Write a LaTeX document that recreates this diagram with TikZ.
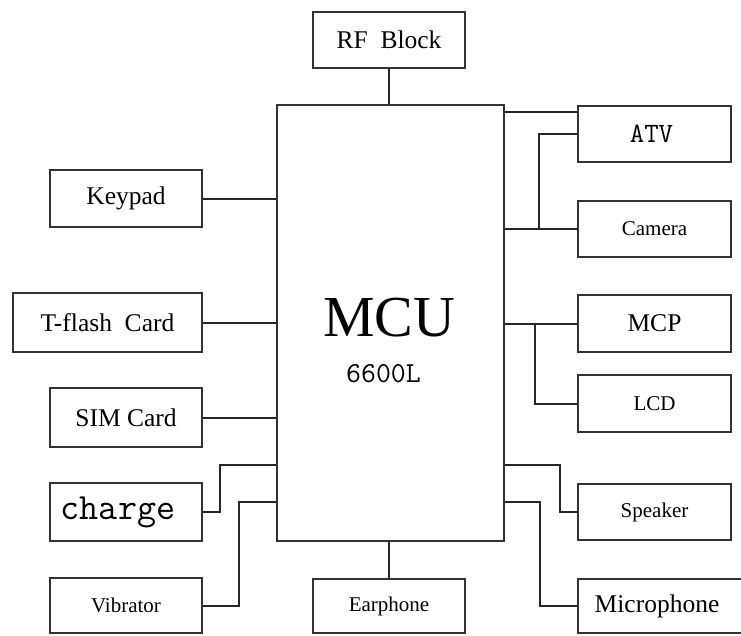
\documentclass[tikz,border=0pt]{standalone}
\usepackage{fontspec}
\setmainfont{Liberation Serif}
\usetikzlibrary{calc}
\tikzset{
  blk/.style={draw=black!80, line width=2pt, fill=white, inner sep=0pt, minimum width=152pt, minimum height=57pt, font=\fontsize{25.5}{25.5}\selectfont},
  smallblk/.style={blk, font=\fontsize{21}{21}\selectfont},
  monoblk/.style={blk, font=\fontsize{28}{28}\ttfamily},
  conn/.style={draw=black!85, line width=2pt}
}
\begin{document}
\begin{tikzpicture}[x=1pt,y=-1pt]
\useasboundingbox (0,0) rectangle (741,635);
\fill[white] (0,0) rectangle (741,635);
% central MCU
\node[draw=black!80, line width=2pt, minimum width=227pt, minimum height=436pt, inner sep=0pt] (MCU) at (390.5,323) {};
\node[font=\fontsize{58}{58}\selectfont, inner sep=0pt] (mcutxt) at (389.5,318) {MCU};
\node[font=\fontsize{29}{29}\ttfamily, inner sep=0pt] (mcuid) at (383.5,374) {6600L};
% top / bottom
\node[blk, minimum height=56pt] (RF) at (389,40) {RF\hspace{0.5em}Block};
\node[smallblk, minimum height=54pt] (Earphone) at (389,606) {Earphone};
% left side
\node[blk] (Keypad) at (126,198.5) {Keypad};
\node[blk, minimum width=189pt, minimum height=59pt] (Tflash) at (107.5,322.5) {T-flash\hspace{0.5em}Card};
\node[blk, minimum height=59pt] (SIM) at (126,417.5) {SIM Card};
\node[blk, minimum height=58pt, font=\fontsize{37}{37}\ttfamily] (charge) at (126,512) {\hspace{-16pt}charge};
\node[smallblk, minimum height=55pt] (Vibrator) at (126,605.5) {Vibrator};
% right side
\node[monoblk, minimum width=153pt, minimum height=56pt] (ATV) at (654.5,134) {\hspace{-6pt}ATV};
\node[smallblk, minimum width=153pt, minimum height=56pt] (Camera) at (654.5,229) {Camera};
\node[blk, minimum width=153pt] (MCP) at (654.5,323.5) {MCP};
\node[smallblk, minimum width=153pt] (LCD) at (654.5,403.5) {LCD};
\node[smallblk, minimum width=153pt, minimum height=56pt] (Speaker) at (654.5,512) {Speaker};
\node[blk, minimum width=170pt, minimum height=54pt] (Microphone) at (663,606) {\hspace{-12pt}Microphone};
% connectors top / bottom
\draw[conn] (RF.south) -- (RF.south |- MCU.north);
\draw[conn] (Earphone.north |- MCU.south) -- (Earphone.north);
% left connectors
\draw[conn] (Keypad.east) -- (Keypad.east -| MCU.west);
\draw[conn] (Tflash.east) -- (Tflash.east -| MCU.west);
\draw[conn] (SIM.east) -- (SIM.east -| MCU.west);
\draw[conn] (charge.east) -- ++(17,0) |- (MCU.west |- 0,465);
\draw[conn] (Vibrator.east) -- ++(36,0) |- (MCU.west |- 0,502);
% right connectors
\draw[conn] (MCU.east |- 0,112) -- (ATV.west |- 0,112);
\draw[conn] (MCU.east |- Camera.west) -- (Camera.west);
\draw[conn] (ATV.west |- 0,134) -| ($(Camera.west)+(-38,0)$);
\draw[conn] (MCU.east |- MCP.west) -- (MCP.west);
\draw[conn] (LCD.west) -| ($(MCP.west)+(-42,0)$);
\draw[conn] (Speaker.west) -- ++(-17,0) |- (MCU.east |- 0,465);
\draw[conn] (Microphone.west) -- ++(-37,0) |- (MCU.east |- 0,502);
\end{tikzpicture}
\end{document}
